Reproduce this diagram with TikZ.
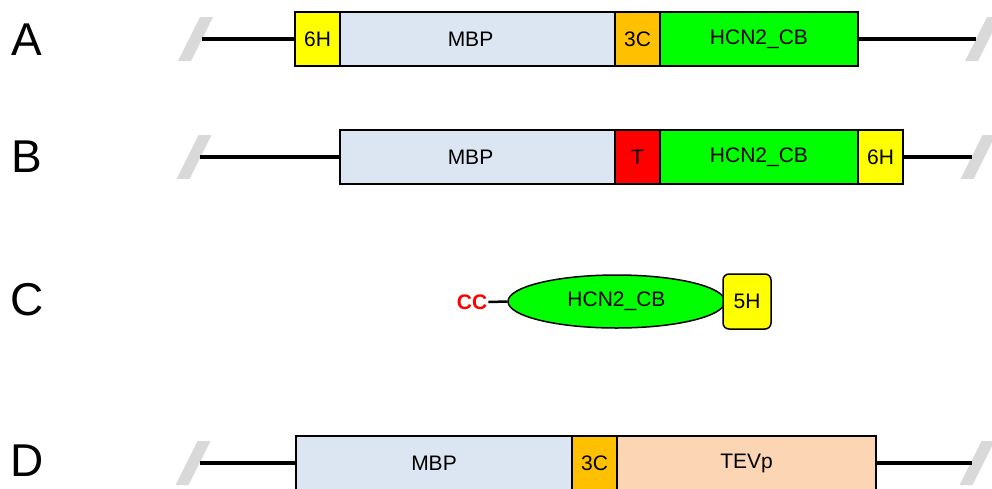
\documentclass[tikz,border=0pt]{standalone}
\usepackage{fontspec}
\setmainfont{Liberation Sans}
\usetikzlibrary{shapes.geometric}
\definecolor{mbpblue}{HTML}{DCE6F2}
\definecolor{tagyellow}{HTML}{FFFF00}
\definecolor{tcorange}{HTML}{FFC000}
\definecolor{hcngreen}{HTML}{00FF00}
\definecolor{thrred}{HTML}{FF0000}
\definecolor{tevpeach}{HTML}{FCD5B5}
\definecolor{slashgrey}{HTML}{D9D9D9}
\begin{document}
\begin{tikzpicture}[x=1pt,y=-1pt,
  seg/.style={draw=black,line width=1.5pt,inner sep=0pt,minimum height=54pt,
    font=\fontsize{21}{25}\selectfont},
  linker/.style={line width=4pt},
  rowlabel/.style={font=\fontsize{46}{50}\selectfont,inner sep=0pt},
  pics/slashmark/.style={code={\fill[slashgrey] (-17.5,22) -- (-4.5,22) -- (17.5,-22) -- (4.5,-22) -- cycle;}}]
\useasboundingbox (0,0) rectangle (992,488);
\clip (0,0) rectangle (992,488);

% row labels
\node[rowlabel] (labA) at (27,40) {A};
\node[rowlabel] (labB) at (27,157) {B};
\node[rowlabel] (labC) at (27,300) {C};
\node[rowlabel] (labD) at (27,461) {D};

% slash marks
\pic at (195.5,39) {slashmark};
\pic at (982.5,39) {slashmark};
\pic at (194,157) {slashmark};
\pic at (978,157) {slashmark};
\pic at (193,463) {slashmark};
\pic at (977,463) {slashmark};

\coordinate (aL) at (202,39);
\coordinate (aR) at (976,39);
\coordinate (bL) at (200,157);
\coordinate (bR) at (972,157);
\coordinate (dL) at (200,463);
\coordinate (dR) at (972,463);

% Row A
\node[seg,fill=tagyellow,minimum width=45pt] (a6h) at (317.5,39) {6H};
\node[seg,fill=mbpblue,minimum width=275pt] (ambp) at (477.5,39) {MBP\hspace*{14pt}};
\node[seg,fill=tcorange,minimum width=45pt] (a3c) at (637.5,39) {3C};
\node[seg,fill=hcngreen,minimum width=198pt] (ahcn) at (759,39) {HCN2\_CB};
\draw[linker] (aL) -- (a6h.west);
\draw[linker] (ahcn.east) -- (aR);

% Row B
\node[seg,fill=mbpblue,minimum width=275pt] (bmbp) at (477.5,157) {MBP\hspace*{14pt}};
\node[seg,fill=thrred,minimum width=45pt] (bt) at (637.5,157) {T};
\node[seg,fill=hcngreen,minimum width=198pt] (bhcn) at (759,157) {HCN2\_CB};
\node[seg,fill=tagyellow,minimum width=45pt] (b6h) at (880.5,157) {6H};
\draw[linker] (bL) -- (bmbp.west);
\draw[linker] (b6h.east) -- (bR);

% Row C
\node[font=\fontsize{21}{25}\selectfont\bfseries,text=thrred,inner sep=0pt] (cc) at (472,302) {CC};
\node[ellipse,draw=black,line width=1.5pt,fill=hcngreen,minimum width=217pt,minimum height=53pt,inner sep=0pt,
  font=\fontsize{21}{25}\selectfont] (chcn) at (616.5,301.5) {HCN2\_CB};
\draw[line width=2.5pt] (cc.east) ++(1,0) -- (chcn.west);
\node[draw=black,line width=1.5pt,fill=tagyellow,rounded corners=6pt,minimum width=48pt,minimum height=55pt,inner sep=0pt,
  font=\fontsize{21}{25}\selectfont] (c5h) at (747,301.5) {5H};

% Row D
\node[seg,fill=mbpblue,minimum width=276pt] (dmbp) at (434,463) {MBP};
\node[seg,fill=tcorange,minimum width=45pt] (d3c) at (594.5,463) {3C};
\node[seg,fill=tevpeach,minimum width=259pt] (dtev) at (746.5,463) {TEVp};
\draw[linker] (dL) -- (dmbp.west);
\draw[linker] (dtev.east) -- (dR);
\end{tikzpicture}
\end{document}
